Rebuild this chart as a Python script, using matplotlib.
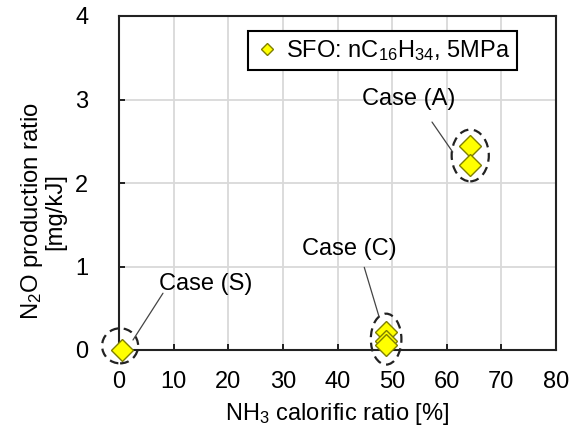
import matplotlib
matplotlib.use("Agg")
import matplotlib.pyplot as plt
from matplotlib.patches import Ellipse

plt.rcParams['font.family'] = ['Liberation Sans', 'DejaVu Sans']
plt.rcParams['mathtext.fontset'] = 'custom'
plt.rcParams['mathtext.rm'] = 'Liberation Sans'
plt.rcParams['mathtext.default'] = 'regular'

# Data
nh3_ratio = [64.3, 64.3, 48.9, 48.9, 48.9, 0.5]
n2o_ratio = [2.44, 2.22, 0.21, 0.11, 0.06, 0.0]
series_label = r'SFO: nC$_{16}$H$_{34}$, 5MPa'
x_ticks = [0, 10, 20, 30, 40, 50, 60, 70, 80]
y_ticks = [0, 1, 2, 3, 4]

# group ellipses: (cx, cy, w, h)
groups = [(64.3, 2.33, 6.8, 0.62), (48.9, 0.13, 5.6, 0.61), (0.2, 0.05, 6.6, 0.42)]
# annotations: label, text pos, line start, line end
annots = [("Case (A)", (53.1, 3.01), (57.3, 2.73), (61.1, 2.37)),
          ("Case (C)", (42.1, 1.21), (44.9, 0.99), (47.6, 0.40)),
          ("Case (S)", (15.9, 0.79), (8.05, 0.68), (2.56, 0.12))]

fig = plt.figure(figsize=(5.72, 4.28), dpi=100)
ax = fig.add_axes([119/572, 78/428, 437/572, 334/428])

ax.set_xlim(0, 80)
ax.set_ylim(0, 4)
ax.set_xticks(x_ticks)
ax.set_yticks(y_ticks)
ax.grid(True, color='#d9d9d9', linewidth=1.3)
ax.set_axisbelow(True)
for s in ax.spines.values():
    s.set_linewidth(1.5)
    s.set_color('#222222')
ax.tick_params(axis='both', direction='in', length=4, width=1.2, labelsize=17)
ax.tick_params(axis='y', pad=22)
ax.tick_params(axis='x', pad=15)

ax.plot(nh3_ratio, n2o_ratio, linestyle='none', marker='D', markersize=11,
        markerfacecolor='#ffff00', markeredgecolor='#7f7f00', markeredgewidth=1.0,
        label=series_label, clip_on=False, zorder=5)

for cx, cy, w, h in groups:
    e = Ellipse((cx, cy), w, h, fill=False, edgecolor='#222222', linewidth=1.6,
                linestyle=(0, (4, 2.5)), clip_on=False, zorder=6)
    ax.add_patch(e)

for label, tpos, lstart, lend in annots:
    ax.text(tpos[0], tpos[1], label, fontsize=17, ha='center', va='center', zorder=7)
    ax.annotate('', xy=lend, xytext=lstart,
                arrowprops=dict(arrowstyle='-', color='#444444', linewidth=0.9,
                                shrinkA=0, shrinkB=0), zorder=7)

ax.set_xlabel(r'NH$_3$ calorific ratio [%]', fontsize=17, labelpad=6)
ax.set_ylabel('N$_2$O production ratio\n[mg/kJ]', fontsize=17.2, linespacing=0.95)
ax.yaxis.set_label_coords(-0.12, 0.416)

leg = ax.legend(loc='upper left', bbox_to_anchor=(0.295, 0.955), fontsize=17,
                frameon=True, fancybox=False, markerscale=0.6, handletextpad=0.3,
                handlelength=1.0, borderpad=0.3, borderaxespad=0)
leg.get_frame().set_edgecolor('black')
leg.get_frame().set_linewidth(1.5)
leg.get_frame().set_alpha(1)

fig.savefig('out.png', dpi=100)
